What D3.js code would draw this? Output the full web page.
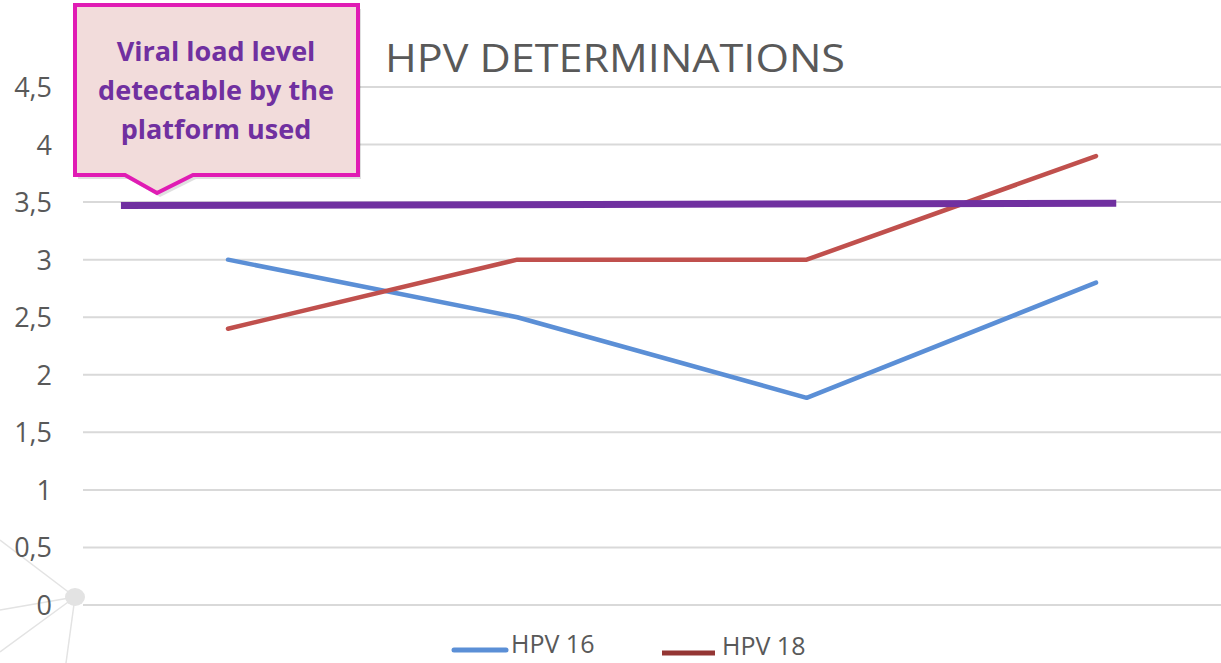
<!DOCTYPE html>
<html>
<head>
<meta charset="utf-8">
<script src="https://cdn.jsdelivr.net/npm/d3@7"></script>
<style>
  html, body { margin: 0; padding: 0; background: #fff; }
  svg { display: block; font-family: "Open Sans", "Noto Sans", sans-serif; }
</style>
</head>
<body>
<svg id="chart" width="1221" height="663"></svg>
<script>
// data
var categories = ["A", "B", "C", "D"];
var hpv16 = [3, 2.5, 1.8, 2.8];
var hpv18 = [2.4, 3, 3, 3.9];
var seriesNames = ["HPV 16", "HPV 18"];
var yTicks = [0, 0.5, 1, 1.5, 2, 2.5, 3, 3.5, 4, 4.5];
var thresholdValue = [3.47, 3.49];      // left end, right end
var thresholdSpan = [-0.37, 3.07];      // in category units
var calloutLines = ["Viral load level", "detectable by the", "platform used"];

var svg = d3.select("#chart");
var W = 1221, H = 663;

var x = d3.scaleLinear().domain([0, 3]).range([228, 1096]);
var y = d3.scaleLinear().domain([0, 4.5]).range([605, 87]);

// decoration bottom-left
var deco = svg.append("g").attr("stroke", "#e3e3e3").attr("stroke-width", 1.5);
[[0, 540], [0, 610], [0, 652], [66, 663]].forEach(function (p) {
  deco.append("line").attr("x1", 75).attr("y1", 597).attr("x2", p[0]).attr("y2", p[1]);
});
svg.append("ellipse").attr("cx", 75).attr("cy", 597).attr("rx", 10).attr("ry", 9).attr("fill", "#e3e3e3");

// grid
svg.append("g").selectAll("line").data(yTicks).enter().append("line")
  .attr("x1", 83).attr("x2", W)
  .attr("y1", function (d) { return y(d); }).attr("y2", function (d) { return y(d); })
  .attr("stroke", "#d9d9d9").attr("stroke-width", 2);

// y axis labels
var fmt = function (d) { return String(d).replace(".", ","); };
svg.append("g").selectAll("text").data(yTicks).enter().append("text")
  .attr("x", 52).attr("y", function (d) { return y(d) + 10; })
  .attr("text-anchor", "end").attr("fill", "#595959")
  .style("font-size", "27px")
  .text(fmt);

// title
svg.append("text").attr("x", 385).attr("y", 72).attr("fill", "#595959")
  .style("font-size", "39px").attr("textLength", 460).attr("lengthAdjust", "spacingAndGlyphs")
  .text("HPV DETERMINATIONS");

var line = d3.line().x(function (d, i) { return x(i); }).y(function (d) { return y(d); });

svg.append("path").datum(hpv16).attr("d", line).attr("fill", "none")
  .attr("stroke", "#5b8fd6").attr("stroke-width", 4.5).attr("stroke-linecap", "round").attr("stroke-linejoin", "round");
svg.append("path").datum(hpv18).attr("d", line).attr("fill", "none")
  .attr("stroke", "#c0504d").attr("stroke-width", 4.5).attr("stroke-linecap", "round").attr("stroke-linejoin", "round");

// threshold line
svg.append("line")
  .attr("x1", x(thresholdSpan[0])).attr("x2", x(thresholdSpan[1]))
  .attr("y1", y(thresholdValue[0])).attr("y2", y(thresholdValue[1]))
  .attr("stroke", "#7030a0").attr("stroke-width", 7);

// callout
var callout = "M75,5 L358,5 L358,175 L193,175 L157,193 L125,175 L75,175 Z";
svg.append("path").attr("d", callout).attr("fill", "#000").attr("opacity", 0.12)
  .attr("transform", "translate(3,4)");
svg.append("path").attr("d", callout).attr("fill", "#f2dcdb")
  .attr("stroke", "#e01cb4").attr("stroke-width", 4).attr("stroke-linejoin", "miter");
svg.append("g").selectAll("text").data(calloutLines).enter().append("text")
  .attr("x", 216).attr("y", function (d, i) { return 61 + i * 39; })
  .attr("text-anchor", "middle").attr("fill", "#7030a0")
  .style("font-size", "27px").style("font-weight", "bold")
  .text(function (d) { return d; });

// legend
var legend = svg.append("g");
legend.append("line").attr("x1", 454).attr("x2", 506).attr("y1", 650).attr("y2", 650)
  .attr("stroke", "#5b8fd6").attr("stroke-width", 5).attr("stroke-linecap", "round");
legend.append("text").attr("x", 511).attr("y", 653).attr("fill", "#595959").style("font-size", "25px").text(seriesNames[0]);
legend.append("line").attr("x1", 662).attr("x2", 715).attr("y1", 653).attr("y2", 653)
  .attr("stroke", "#943634").attr("stroke-width", 5);
legend.append("text").attr("x", 722).attr("y", 655).attr("fill", "#595959").style("font-size", "25px").text(seriesNames[1]);
</script>
</body>
</html>
